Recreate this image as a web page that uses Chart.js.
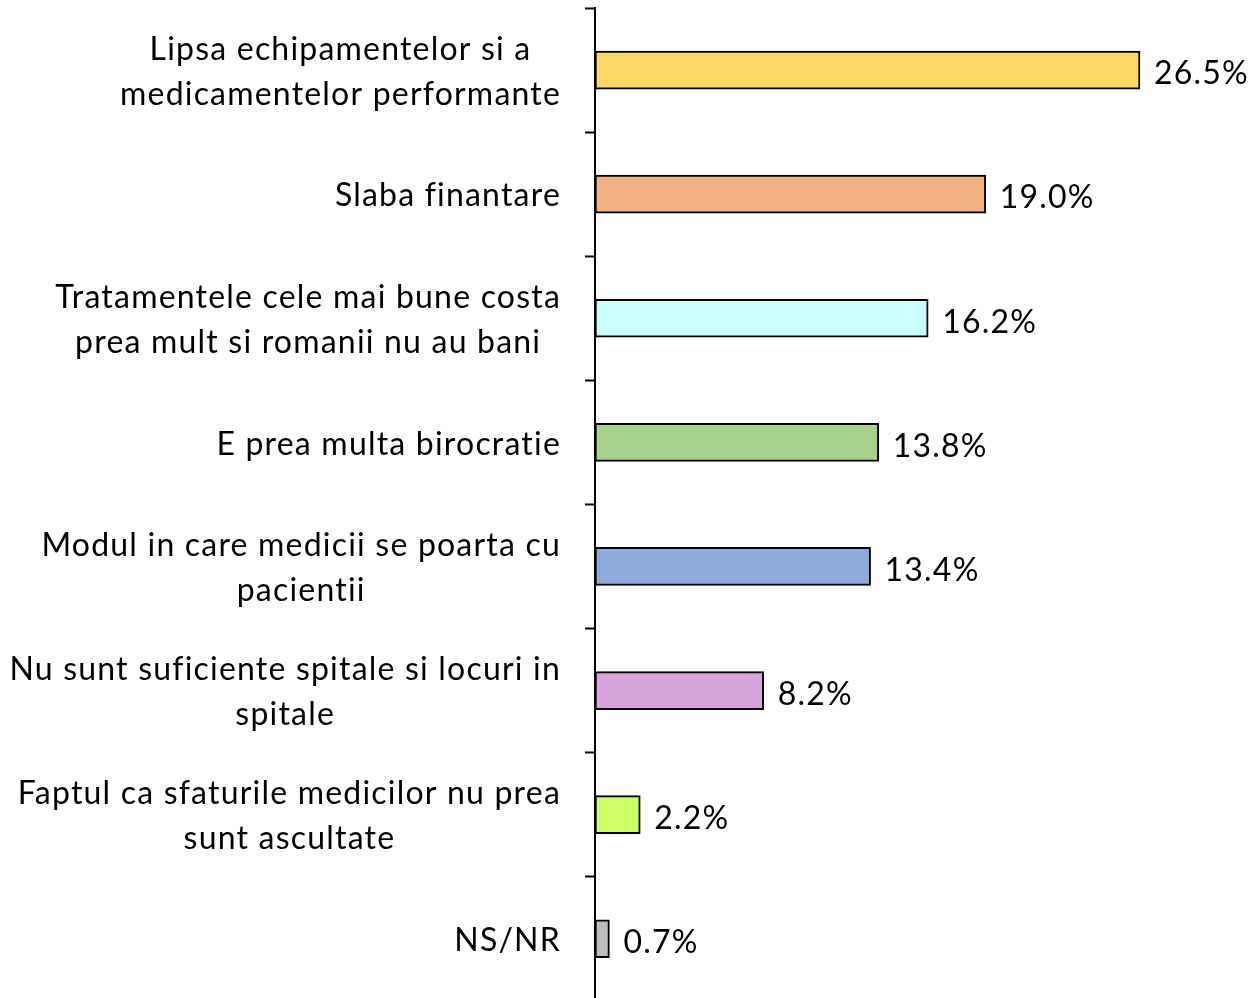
<!DOCTYPE html>
<html>
<head>
<meta charset="utf-8">
<script src="https://cdn.jsdelivr.net/npm/chart.js@4/dist/chart.umd.min.js"></script>
<style>
  html, body { margin: 0; padding: 0; background: #fff; overflow: hidden; }
  canvas { display: block; }
</style>
</head>
<body>
<canvas id="chart" width="1258" height="1008"></canvas>
<script>
const categories = [
  ['Lipsa echipamentelor si a', 'medicamentelor performante'],
  ['Slaba finantare'],
  ['Tratamentele cele mai bune costa', 'prea mult si romanii nu au bani'],
  ['E prea multa birocratie'],
  ['Modul in care medicii se poarta cu', 'pacientii'],
  ['Nu sunt suficiente spitale si locuri in', 'spitale'],
  ['Faptul ca sfaturile medicilor nu prea', 'sunt ascultate'],
  ['NS/NR'],
];
const values = [26.5, 19.0, 16.2, 13.8, 13.4, 8.2, 2.2, 0.7];
const barColors = ['#FFD966', '#F4B183', '#CCFFFF', '#A9D18E', '#8FAADC', '#D9A3DB', '#CCFF66', '#BFBFBF'];

const FONT = '32px Lato';
const SPACING = '1.2px';
const LABEL_RIGHT = 561;
const LINE_H = 45;

// category labels: lines centred on each other, widest line flush right
const categoryLabels = {
  id: 'categoryLabels',
  afterDraw(chart) {
    const ctx = chart.ctx;
    const y = chart.scales.y;
    ctx.save();
    ctx.font = FONT;
    ctx.letterSpacing = SPACING;
    ctx.fillStyle = '#000';
    ctx.textBaseline = 'middle';
    ctx.textAlign = 'center';
    categories.forEach((lines, i) => {
      const w = Math.max(...lines.map(l => ctx.measureText(l).width));
      const cx = LABEL_RIGHT - w / 2;
      const cy = y.getPixelForValue(i) + 2;
      const top = cy - (lines.length - 1) * LINE_H / 2;
      lines.forEach((l, k) => ctx.fillText(l, cx, top + k * LINE_H));
    });
    ctx.restore();
  }
};

// value labels at the end of each bar
const valueLabels = {
  id: 'valueLabels',
  afterDatasetsDraw(chart) {
    const ctx = chart.ctx;
    const meta = chart.getDatasetMeta(0);
    ctx.save();
    ctx.font = FONT;
    ctx.letterSpacing = SPACING;
    ctx.fillStyle = '#000';
    ctx.textBaseline = 'middle';
    ctx.textAlign = 'left';
    meta.data.forEach((bar, i) => {
      ctx.fillText(values[i].toFixed(1) + '%', bar.x + 14, bar.y + 4);
    });
    ctx.restore();
  }
};

new Chart(document.getElementById('chart'), {
  type: 'bar',
  plugins: [categoryLabels, valueLabels],
  data: {
    labels: categories.map(c => c.join(' ')),
    datasets: [{
      data: values,
      backgroundColor: barColors,
      borderColor: '#000',
      borderWidth: 2,
      borderSkipped: false,
      barThickness: 38,
    }],
  },
  options: {
    indexAxis: 'y',
    responsive: false,
    animation: false,
    layout: { autoPadding: false, padding: { top: 8, right: 46, bottom: 0, left: 0 } },
    plugins: {
      legend: { display: false },
      tooltip: { enabled: false },
    },
    scales: {
      x: {
        display: false,
        min: 0,
        max: 30,
      },
      y: {
        offset: true,
        afterFit(scale) { scale.width = 595; },
        ticks: {
          callback: () => '',
          padding: 0,
        },
        grid: {
          offset: true,
          drawOnChartArea: false,
          tickLength: 10,
          tickWidth: 2,
          tickColor: '#000',
        },
        border: { color: '#000', width: 2 },
      },
    },
  },
});
</script>
</body>
</html>
